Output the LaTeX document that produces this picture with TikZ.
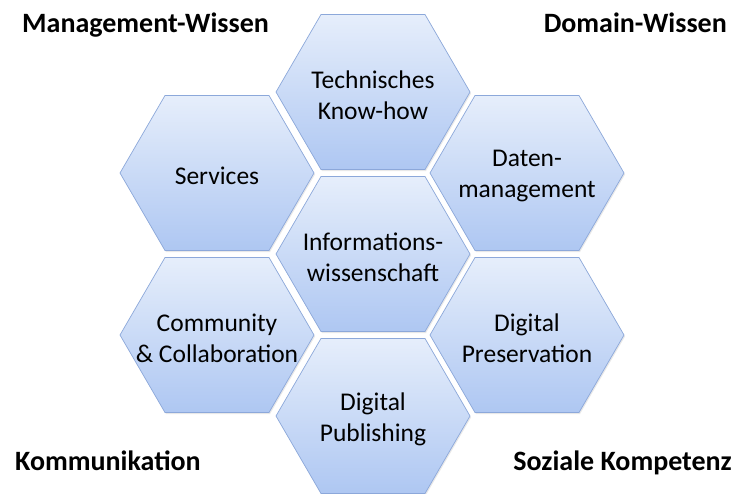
\documentclass[tikz,border=0pt]{standalone}
\usepackage{fontspec}
\setmainfont{Carlito}
\usetikzlibrary{shadows}

\definecolor{hextop}{HTML}{E6EEFB}
\definecolor{hexbot}{HTML}{AEC7F2}
\definecolor{hexline}{HTML}{8CA8DA}

\tikzset{
	hexa/.style={draw=hexline, line width=0.7pt, top color=hextop, bottom color=hexbot,
		drop shadow={opacity=0.18, shadow xshift=1pt, shadow yshift=-1.5pt}},
	hextext/.style={align=center, inner sep=0pt, font=\fontsize{25.5}{31}\selectfont},
	corner/.style={inner sep=0pt, font=\fontsize{28}{32}\selectfont\bfseries}
}

% #1 name, #2 centre, #3 text
\newcommand{\hexfeld}[3]{
	\path[hexa] (#2) ++(-97,0) -- ++(45,-77.5) -- ++(104,0) -- ++(45,77.5)
		-- ++(-45,77.5) -- ++(-104,0) -- cycle;
	\node[hextext] (#1) at ([yshift=-3pt]#2) {#3};
}

\begin{document}
\begin{tikzpicture}[x=1pt, y=-1pt]
	\useasboundingbox[fill=white] (0,0) rectangle (734,493);

	\hexfeld{techknow}{373,92}{Technisches\\Know-how}
	\hexfeld{services}{217,173}{Services}
	\hexfeld{daten}{527,173}{Daten-\\management}
	\hexfeld{infowiss}{373,254}{Informations-\\wissenschaft}
	\hexfeld{community}{217,335}{Community\\\& Collaboration}
	\hexfeld{preservation}{527,335}{Digital\\Preservation}
	\hexfeld{publishing}{373,416}{Digital\\Publishing}

	\node[corner, anchor=base west] (mgmt) at (22,32) {Management-Wissen};
	\node[corner, anchor=base east] (domain) at (727,32) {Domain-Wissen};
	\node[corner, anchor=base west] (komm) at (15,470) {Kommunikation};
	\node[corner, anchor=base east] (sozial) at (732,470) {Soziale Kompetenz};
\end{tikzpicture}
\end{document}
